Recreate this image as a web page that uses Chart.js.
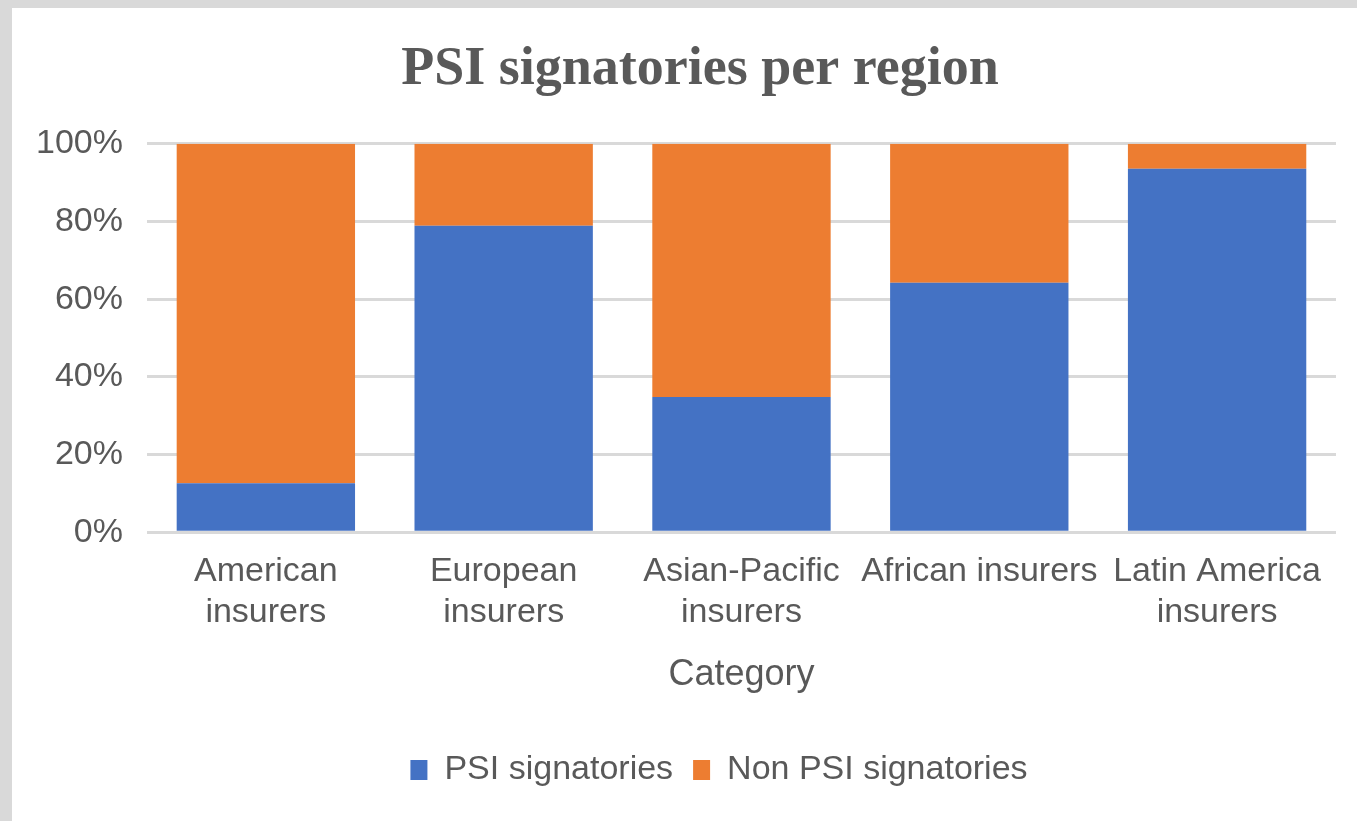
<!DOCTYPE html>
<html>
<head>
<meta charset="utf-8">
<script src="https://cdn.jsdelivr.net/npm/chart.js@4"></script>
<style>
  html, body { margin: 0; padding: 0; background: #d9d9d9; }
  #wrap { position: absolute; left: 12px; top: 8px; width: 1345px; height: 813px; background: #fff; }
</style>
</head>
<body>
<div id="wrap"><canvas id="psiChart"></canvas></div>
<script>
// chart data
const categories = [['American', 'insurers'], ['European', 'insurers'], ['Asian-Pacific', 'insurers'], 'African insurers', ['Latin America', 'insurers']];
const psiShare = [12.6, 78.9, 34.8, 64.2, 93.6];
const nonPsiShare = [87.4, 21.1, 65.2, 35.8, 6.4];
const yTicks = [0, 20, 40, 60, 80, 100];

const textGrey = '#595959';

// title and legend sit a bit right of the canvas centre in the original
const nudgeBoxes = {
    id: 'nudgeBoxes',
    afterLayout(chart) {
        if (chart.titleBlock) { chart.titleBlock.left += 26; chart.titleBlock.right += 26; }
        if (chart.legend) { chart.legend.left += 45; chart.legend.right += 45; }
    }
};

let ctx = document.getElementById('psiChart').getContext('2d');
new Chart(ctx, {
    type: 'bar',
    data: {
        labels: categories,
        datasets: [{
            label: 'PSI signatories',
            data: psiShare,
            backgroundColor: '#4472c4'
        }, {
            label: 'Non PSI signatories',
            data: nonPsiShare,
            backgroundColor: '#ed7d31'
        }]
    },
    plugins: [nudgeBoxes],
    options: {
        responsive: true,
        maintainAspectRatio: false,
        animation: false,
        layout: { padding: { left: 0, right: 21, top: 0, bottom: 24 } },
        datasets: { bar: { categoryPercentage: 1, barPercentage: 0.75 } },
        plugins: {
            title: {
                display: true,
                text: 'PSI signatories per region',
                color: textGrey,
                font: { family: 'Liberation Serif', size: 54, weight: 'bold' },
                padding: { top: 30, bottom: 41 }
            },
            legend: {
                position: 'bottom',
                labels: {
                    color: textGrey,
                    font: { family: 'Liberation Sans', size: 34 },
                    boxWidth: 17,
                    boxHeight: 20,
                    padding: 20
                }
            },
            tooltip: { enabled: false }
        },
        scales: {
            x: {
                stacked: true,
                grid: { display: false },
                border: { display: false },
                ticks: {
                    color: textGrey,
                    font: { family: 'Liberation Sans', size: 34, lineHeight: 1.2 },
                    padding: 11,
                    maxRotation: 0,
                    autoSkip: false
                },
                title: {
                    display: true,
                    text: 'Category',
                    color: textGrey,
                    font: { family: 'Liberation Sans', size: 36 },
                    padding: { top: 10, bottom: 36 }
                }
            },
            y: {
                stacked: true,
                min: 0,
                max: 100,
                afterBuildTicks: axis => { axis.ticks = yTicks.map(v => ({ value: v })); },
                grid: { color: '#d9d9d9', lineWidth: 3, drawTicks: false },
                border: { display: false },
                ticks: {
                    color: textGrey,
                    font: { family: 'Liberation Sans', size: 34 },
                    padding: 24,
                    callback: v => v + '%'
                }
            }
        }
    }
});
</script>
</body>
</html>
